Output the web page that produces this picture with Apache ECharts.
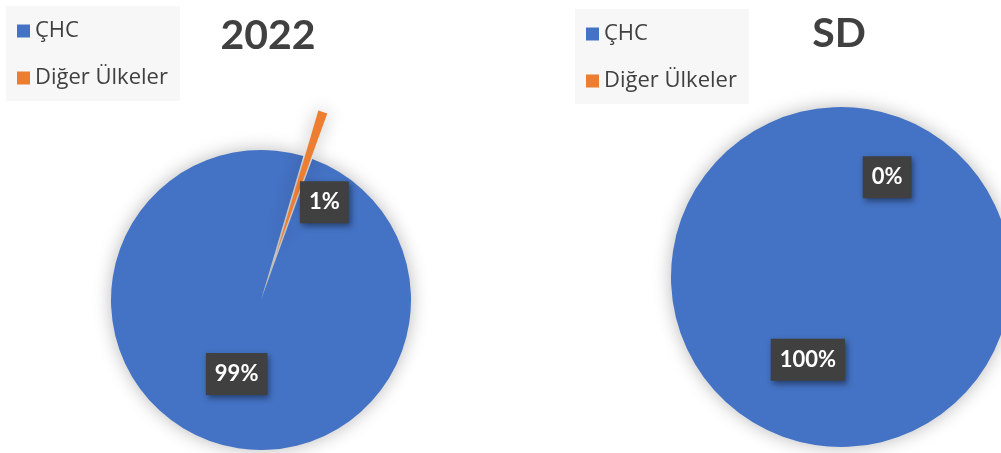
<!DOCTYPE html>
<html>
<head>
<meta charset="utf-8">
<script src="https://cdn.jsdelivr.net/npm/echarts@6/dist/echarts.min.js"></script>
<style>
  html, body { margin: 0; padding: 0; background: #fff; }
  #main { width: 1001px; height: 453px; }
</style>
</head>
<body>
<div id="main"></div>
<script>
// 数据
var categories = ['ÇHC', 'Diğer Ülkeler'];
var values2022 = [99, 1];
var valuesSD = [100, 0];
var titles = ['2022', 'SD'];
var colors = ['#4472C4', '#ED7D31'];

var myChart = echarts.init(document.getElementById('main'));

// 数据标签样式
var labelStyle = {
  show: true,
  position: 'inside',
  formatter: '{d}%',
  color: '#fff',
  fontFamily: 'Lato',
  fontWeight: 'bold',
  fontSize: 22,
  lineHeight: 22,
  backgroundColor: '#404040',
  padding: [10, 9],
  shadowColor: 'rgba(0,0,0,0.45)',
  shadowBlur: 6,
  shadowOffsetX: 2,
  shadowOffsetY: 3
};

function legendAt(left, top) {
  return {
    orient: 'vertical',
    left: left,
    top: top,
    data: categories,
    icon: 'rect',
    itemWidth: 13,
    itemHeight: 13,
    itemGap: 25,
    itemTextGap: 6,
    backgroundColor: '#f7f7f7',
    padding: [14, 12, 12, 11],
    selectedMode: false,
    textStyle: { fontFamily: 'Open Sans', fontSize: 22, lineHeight: 20, color: '#404040' }
  };
}

function makeData(values, labelOffsets) {
  return categories.map(function (name, i) {
    var item = { name: name, value: values[i], itemStyle: { color: colors[i] } };
    if (labelOffsets && labelOffsets[i]) {
      item.label = { offset: labelOffsets[i] };
      item.select = { label: { offset: labelOffsets[i] } };
    }
    return item;
  });
}

var data2022 = makeData(values2022, [null, [24, 22]]);
data2022[1].selected = true;
var dataSD = makeData(valuesSD, [[-3, 0], [16, -17]]);

var option = {
  animation: false,
  color: colors,
  title: [
    { text: titles[0], left: 263, top: 10, textAlign: 'center',
      textStyle: { fontFamily: 'Lato', fontWeight: 'bold', fontSize: 41, color: '#404040' } },
    { text: titles[1], left: 834, top: 8, textAlign: 'center',
      textStyle: { fontFamily: 'Lato', fontWeight: 'bold', fontSize: 41, color: '#404040' } }
  ],
  legend: [legendAt(6, 6), legendAt(575, 9)],
  series: [
    {
      name: titles[0],
      type: 'pie',
      center: [261, 300],
      radius: 150,
      startAngle: 70,
      clockwise: true,
      percentPrecision: 0,
      selectedMode: 'multiple',
      selectedOffset: 48,
      avoidLabelOverlap: false,
      emphasis: { disabled: true },
      itemStyle: { shadowBlur: 18, shadowColor: 'rgba(0,0,0,0.28)' },
      label: labelStyle,
      labelLine: { show: false },
      data: data2022
    },
    {
      name: titles[1],
      type: 'pie',
      center: [841, 277],
      radius: 170,
      startAngle: 70,
      clockwise: true,
      percentPrecision: 0,
      avoidLabelOverlap: false,
      emphasis: { disabled: true },
      itemStyle: { shadowBlur: 18, shadowColor: 'rgba(0,0,0,0.28)' },
      label: labelStyle,
      labelLine: { show: false },
      data: dataSD
    }
  ]
};

myChart.setOption(option);
</script>
</body>
</html>
